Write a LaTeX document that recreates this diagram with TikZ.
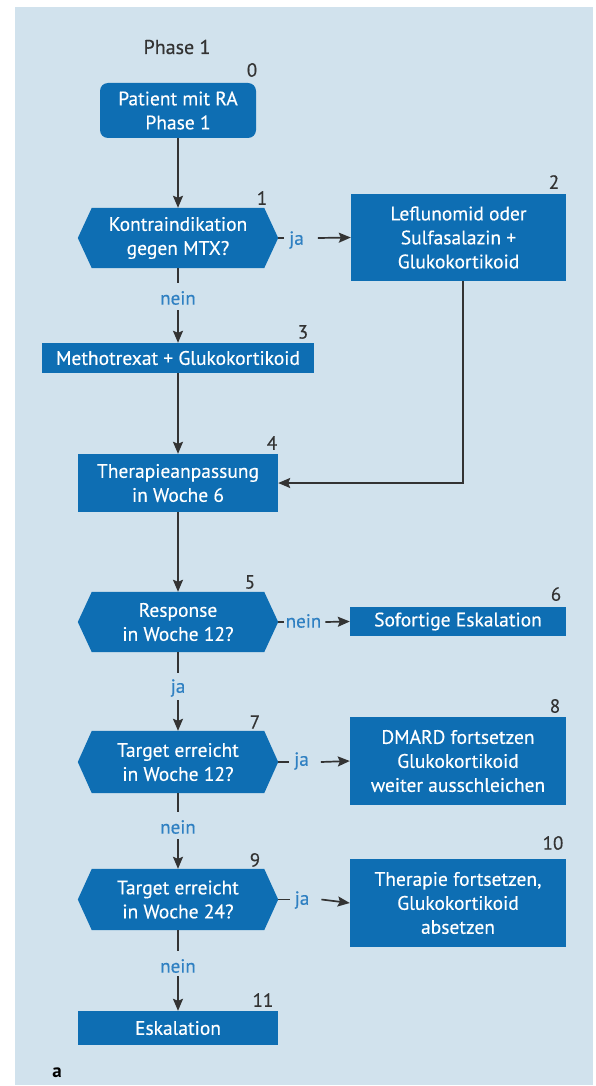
\documentclass[tikz,border=0pt]{standalone}
\usepackage{fontspec}
\setmainfont{PT Sans}
\newfontfamily\medfont[FakeBold=0.35]{PT Sans}
\usetikzlibrary{arrows.meta,backgrounds,calc}
\definecolor{panel}{HTML}{D1E2ED}
\definecolor{boxblue}{HTML}{0E6EB3}
\definecolor{lblblue}{HTML}{2F80C2}
\definecolor{numgray}{HTML}{333333}
\definecolor{linegray}{HTML}{333333}
\begin{document}
\begin{tikzpicture}[x=1pt,y=-1pt,
  txt/.style={font=\medfont\fontsize{19.5}{24}\selectfont},
  box/.style={txt, fill=boxblue, text=white, align=center, inner sep=0pt},
  hexnode/.style={txt, text=white, align=center, inner sep=0pt, minimum width=200pt},
  num/.style={text=numgray, font=\medfont\fontsize{19}{19}\selectfont, inner sep=0pt},
  lbl/.style={text=lblblue, font=\medfont\fontsize{19}{19}\selectfont, inner sep=0pt},
  conn/.style={draw=linegray, line width=1.7pt},
  arr/.style={conn, -{Stealth[length=12pt,width=10pt,inset=2pt]}},
]
\useasboundingbox (0,0) rectangle (596,1086);

% nodes
\node[box, rounded corners=8pt, minimum width=156pt, minimum height=55pt] (n0) at (178,110.5) {Patient mit RA\\Phase 1};
\node[hexnode, minimum height=60pt] (h1) at (178,238) {Kontraindikation\\gegen MTX?};
\node[box, minimum width=215pt, minimum height=87pt] (n2) at (458.5,237.5) {Leflunomid oder\\Sulfasalazin +\\Glukokortikoid};
\node[box, minimum width=272pt, minimum height=30pt] (n3) at (178,358) {Methotrexat + Glukokortikoid};
\node[box, minimum width=200pt, minimum height=58pt] (n4) at (178,483) {Therapieanpassung\\in Woche 6};
\node[hexnode, minimum height=60pt] (h5) at (178,622) {Response\\in Woche 12?};
\node[box, minimum width=216pt, minimum height=29pt] (n6) at (458,621.5) {Sofortige Eskalation};
\node[hexnode, minimum height=62pt] (h7) at (178,762) {Target erreicht\\in Woche 12?};
\node[box, minimum width=216pt, minimum height=88pt] (n8) at (458,761) {DMARD fortsetzen\\Glukokortikoid\\weiter ausschleichen};
\node[hexnode, minimum height=61pt] (h9) at (178,899.5) {Target erreicht\\in Woche 24?};
\node[box, minimum width=216pt, minimum height=88pt] (n10) at (458,903) {Therapie fortsetzen,\\Glukokortikoid\\absetzen};
\node[box, minimum width=200pt, minimum height=34pt] (n11) at (178,1028) {Eskalation};

% background and hexagon fills
\begin{pgfonlayer}{background}
\fill[panel] (15,7) rectangle (593,1085);
\foreach \h in {h1,h5,h7,h9}
  \fill[boxblue] (\h.west) -- ([xshift=14pt]\h.north west) -- ([xshift=-14pt]\h.north east)
    -- (\h.east) -- ([xshift=-14pt]\h.south east) -- ([xshift=14pt]\h.south west) -- cycle;
\end{pgfonlayer}

% title, numbers, panel letter
\node[text=numgray, font=\medfont\fontsize{20}{20}\selectfont, inner sep=0pt] (title) at (177,47) {Phase 1};
\node[num] (k0) at (252,70) {0};
\node[num] (k1) at (262,198) {1};
\node[num] (k2) at (554,182) {2};
\node[num] (k3) at (303,332) {3};
\node[num] (k4) at (272,443) {4};
\node[num] (k5) at (250,582) {5};
\node[num] (k6) at (556,594) {6};
\node[num] (k7) at (255,722) {7};
\node[num] (k8) at (555,706) {8};
\node[num] (k9) at (255,860) {9};
\node[num] (k10) at (553,843) {10};
\node[num] (k11) at (263,1000) {11};
\node[text=black, font=\bfseries\fontsize{19}{19}\selectfont, inner sep=0pt] (panela) at (57,1073) {a};

% connector labels
\node[lbl] (l13) at (178,298) {nein};
\node[lbl] (l12) at (296.5,240) {ja};
\node[lbl] (l56) at (303.5,621) {nein};
\node[lbl] (l57) at (178,688) {ja};
\node[lbl] (l78) at (301.5,761) {ja};
\node[lbl] (l79) at (178,827) {nein};
\node[lbl] (l910) at (302,900) {ja};
\node[lbl] (l911) at (178,966) {nein};

% connectors
\draw[arr] (n0.south) -- (h1.north);
\draw[conn] (h1.east) -- ($(h1.east -| l12.west)+(-5,0)$);
\draw[arr] ($(h1.east -| l12.east)+(14,0)$) -- (n2.west);
\draw[conn] (h1.south) -- ($(l13)+(0,-15)$);
\draw[arr] ($(l13)+(0,12)$) -- (n3.north);
\draw[arr] (n3.south) -- (n4.north);
\draw[arr] ($(n2.south)+(4.5,0)$) |- (n4.east);
\draw[arr] (n4.south) -- (h5.north);
\draw[conn] (h5.east) -- ($(h5.east -| l56.west)+(-2,0)$);
\draw[arr] ($(h5.east -| l56.east)+(4,0)$) -- (n6.west);
\draw[conn] (h5.south) -- ($(l57)+(0,-15)$);
\draw[arr] ($(l57)+(0,12)$) -- (h7.north);
\draw[conn] (h7.east) -- ($(h7.east -| l78.west)+(-5,0)$);
\draw[arr] ($(h7.east -| l78.east)+(12,0)$) -- (n8.west);
\draw[conn] (h7.south) -- ($(l79)+(0,-15)$);
\draw[arr] ($(l79)+(0,12)$) -- (h9.north);
\draw[conn] (h9.east) -- ($(h9.east -| l910.west)+(-5,0)$);
\draw[arr] ($(h9.east -| l910.east)+(12,0)$) -- (n10.west);
\draw[conn] (h9.south) -- ($(l911)+(0,-15)$);
\draw[arr] ($(l911)+(0,10)$) -- (n11.north);
\end{tikzpicture}
\end{document}
